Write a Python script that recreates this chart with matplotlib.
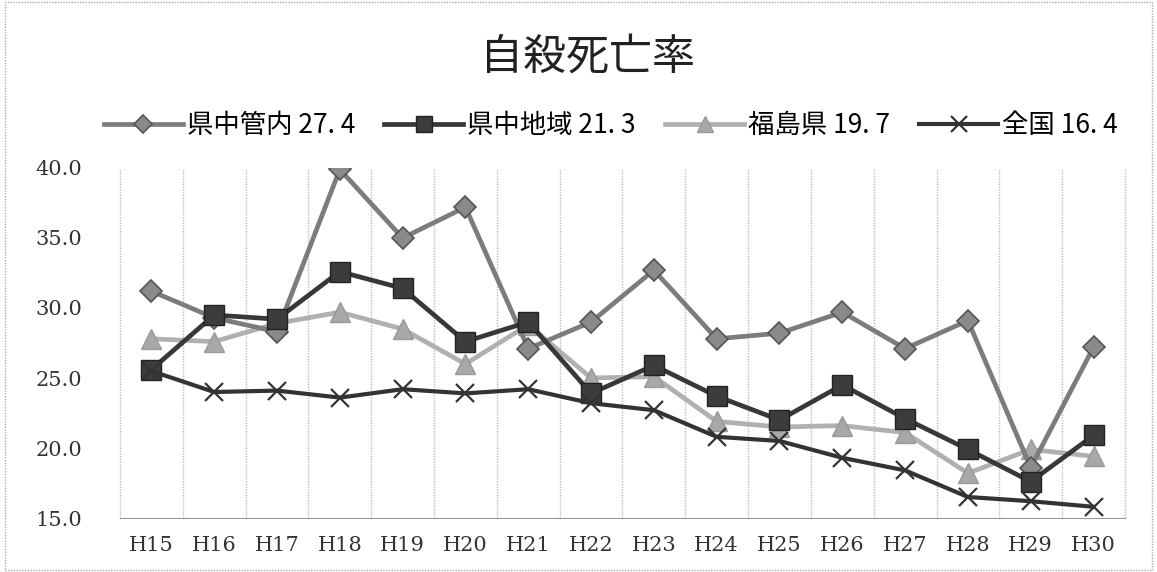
import matplotlib
matplotlib.use("Agg")
import matplotlib.pyplot as plt
import numpy as np

plt.rcParams['font.family'] = ['Noto Sans CJK JP', 'DejaVu Sans']

# 年度ラベル
years = ["H15", "H16", "H17", "H18", "H19", "H20", "H21", "H22",
         "H23", "H24", "H25", "H26", "H27", "H28", "H29", "H30"]

# 自殺死亡率 (人口10万対)
kenchu_kannai = [31.2, 29.3, 28.3, 39.9, 35.0, 37.2, 27.1, 29.0,
                 32.7, 27.8, 28.2, 29.7, 27.1, 29.1, 18.6, 27.2]
kenchu_chiiki = [25.6, 29.5, 29.2, 32.6, 31.4, 27.6, 29.0, 23.9,
                 25.9, 23.7, 22.0, 24.5, 22.1, 19.9, 17.6, 20.9]
fukushima = [27.8, 27.6, 28.9, 29.7, 28.5, 26.0, 28.8, 25.0,
             25.1, 21.9, 21.5, 21.6, 21.1, 18.2, 19.9, 19.4]
zenkoku = [25.5, 24.0, 24.1, 23.6, 24.2, 23.9, 24.2, 23.2,
           22.7, 20.8, 20.5, 19.3, 18.4, 16.5, 16.2, 15.8]

legend_labels = ["県中管内 27. 4", "県中地域 21. 3", "福島県 19. 7", "全国 16. 4"]

fig = plt.figure(figsize=(11.57, 5.72), dpi=100)
ax = fig.add_axes([0.1037, 0.0944, 0.8686, 0.6119])

x = np.arange(len(years))

ax.plot(x, kenchu_kannai, color="#7c7c7c", lw=3.4, marker="D", ms=11,
        mfc="#8a8a8a", mec="#555555", mew=1.2, label=legend_labels[0], zorder=3)
ax.plot(x, kenchu_chiiki, color="#383838", lw=3.4, marker="s", ms=14,
        mfc="#3c3c3c", mec="#222222", mew=1.0, label=legend_labels[1], zorder=4)
ax.plot(x, fukushima, color="#b0b0b0", lw=3.4, marker="^", ms=14,
        mfc="#a8a8a8", mec="#999999", mew=1.0, label=legend_labels[2], zorder=2)
ax.plot(x, zenkoku, color="#333333", lw=3.0, marker="x", ms=13,
        mec="#333333", mew=1.6, label=legend_labels[3], zorder=5)

ax.set_xlim(-0.5, len(years) - 0.5)
ax.set_ylim(15, 40)
yt = np.arange(15, 40.1, 5)
ax.set_yticks(yt)
ax.set_yticklabels([f"{v:.1f}" for v in yt], family="DejaVu Serif",
                   fontsize=15, color="#333333")
ax.set_xticks(x)
ax.set_xticklabels(years, family="DejaVu Serif", fontsize=15, color="#333333")
ax.set_xticks(np.arange(0.5, len(years) - 1, 1), minor=True)
ax.tick_params(axis="both", which="both", length=0)
ax.tick_params(axis="y", pad=27)
ax.tick_params(axis="x", pad=13)
ax.grid(True, which="minor", axis="x", color="#bbbbbb", lw=1.0, ls=(0, (1, 1)))

for side in ["top", "left", "right"]:
    ax.spines[side].set_visible(False)
ax.spines["bottom"].set_color("#999999")
ax.spines["bottom"].set_linestyle((0, (1, 1)))
for xe in (0, 1):
    ax.plot([xe, xe], [0, 1], transform=ax.transAxes, color="#bbbbbb", lw=1.0,
            ls=(0, (1, 1)), clip_on=False)

fig.text(0.508, 0.90, "自殺死亡率", ha="center", va="center", fontsize=31, color="#222222")

leg = fig.legend(loc="center", bbox_to_anchor=(0.528, 0.78), ncol=4, frameon=False,
                 fontsize=19, handlelength=3.0, handletextpad=0.15, columnspacing=1.1,
                 borderaxespad=0, markerscale=0.85)

# 外枠
fig.patches.append(plt.Rectangle((0.004, 0.004), 0.992, 0.992, transform=fig.transFigure,
                                 fill=False, ec="#aaaaaa", lw=1.0, ls=(0, (1, 1))))

fig.savefig("out.png", dpi=100)
